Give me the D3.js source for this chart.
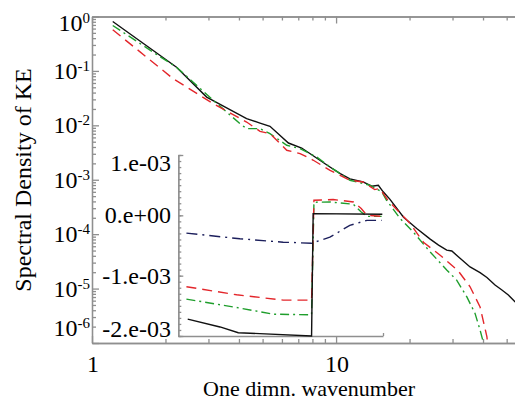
<!DOCTYPE html>
<html>
<head>
<meta charset="utf-8">
<script src="https://cdn.jsdelivr.net/npm/d3@7"></script>
<style>
  body { margin: 0; background: #fff; }
  text { font-family: "Liberation Serif", "Times New Roman", serif; fill: #000; }
</style>
</head>
<body>
<svg id="chart" width="515" height="402"></svg>
<script>
// main spectra (wavenumber, spectral density)
const blackK = [1.216, 2.22, 2.95, 4.30, 4.88, 5.36, 6.38, 7.23, 8.20, 9.30, 10.4, 11.4, 12.9, 14.0, 14.9, 15.6, 16.6, 18.9, 21.4, 24.3, 26.3, 28.4, 29.8, 32.2, 35.4, 38.9, 41.5, 44.8, 47.8, 50.8, 54.2, 60]
const blackE = [0.81, 0.117, 0.033, 0.0133, 0.011, 0.0096, 0.00473, 0.00383, 0.00262, 0.00179, 0.0013, 0.00104, 0.00091, 0.00076, 0.00079, 6.0e-4, 4.4e-4, 2.05e-4, 1.27e-4, 8.1e-5, 6.3e-5, 5.1e-5, 4.9e-5, 3.6e-5, 2.5e-5, 1.97e-5, 1.6e-5, 1.16e-5, 9.4e-6, 7.6e-6, 5.7e-6, 4.2e-6]

const redK = [1.216, 2.15, 3.14, 4.30, 4.88, 5.36, 6.28, 7.12, 8.07, 9.45, 11.4, 12.9, 14.4, 15.1, 16.3, 20.1, 22.8, 26.7, 31.7, 35.4, 38.9, 41.5, 42.3]
const redE = [0.57, 0.072, 0.025, 0.0115, 0.00776, 0.00704, 0.00348, 0.00303, 0.00228, 0.00149, 0.00098, 0.00091, 0.00066, 0.00069, 0.00042, 1.57e-4, 7.1e-5, 4.1e-5, 2.1e-5, 1.08e-5, 4.6e-6, 1.3e-6, 5e-7]

const greenK = [1.216, 1.78, 2.22, 3.14, 4.04, 4.30, 4.88, 5.36, 6.28, 7.12, 8.33, 9.45, 11.4, 13.8, 15.4, 16.1, 18.3, 20.7, 24.3, 28.4, 31.2, 34.3, 37.1, 38.9, 40.2, 40.8]
const greenE = [0.684, 0.221, 0.117, 0.0288, 0.0107, 0.0087, 0.0087, 0.00704, 0.0043, 0.00373, 0.00262, 0.00172, 0.00098, 0.00079, 0.0006, 0.00042, 1.94e-4, 1.1e-4, 4.7e-5, 2.2e-5, 1.43e-5, 7.1e-6, 3.5e-6, 1.73e-6, 9.9e-7, 5e-7]

// inset curves (wavenumber, value)
const insBlackK = [2.47, 3.35, 3.98, 7.95, 8.07, 15.5]
const insBlackV = [-1.72e-3, -1.85e-3, -1.945e-3, -2.0e-3, 0.028e-3, 0.017e-3]
const insNavyK = [2.44, 4.04, 6.08, 7.95, 9.45, 11.4, 13.4, 15.4]
const insNavyV = [-0.295e-3, -0.388e-3, -0.445e-3, -0.462e-3, -0.362e-3, -0.167e-3, -0.083e-3, -0.083e-3]
const insRedK = [2.44, 3.92, 6.08, 7.95, 8.13, 9.75, 11.8, 12.7, 13.4, 15.4]
const insRedV = [-1.183e-3, -1.317e-3, -1.405e-3, -1.405e-3, 0.25e-3, 0.262e-3, 0.222e-3, 0.112e-3, 0.0, -0.017e-3]
const insGreenK = [2.44, 3.92, 5.53, 7.95, 8.13, 9.45, 11.8, 12.7, 13.4, 15.4]
const insGreenV = [-1.388e-3, -1.528e-3, -1.638e-3, -1.65e-3, 0.217e-3, 0.222e-3, 0.183e-3, 0.055e-3, -0.017e-3, -0.017e-3]

// ticks
const xMinor = [2, 3, 4, 5, 6, 7, 8, 9, 20, 30, 40, 50]
const xMajor = [1, 10]
const xLabels = ['1', '10']
const yMajorExp = [0, -1, -2, -3, -4, -5, -6]
const insTicks = [1e-3, 0, -1e-3, -2e-3]
const insLabels = ['1.e-03', '0.e+00', '-1.e-03', '-2.e-03']

const svg = d3.select('#chart')
const axisColor = '#8f8f8f'

const x = d3.scaleLog().domain([1, 60]).range([92, 526])
const y = d3.scaleLog().domain([1e-6, 1]).range([343, 16.5])

const xIn = d3.scaleLog().domain([2.26, 15.6]).range([178.3, 383])
const yIn = d3.scaleLinear().domain([-2e-3, 1e-3]).range([336, 155])

const yMinor = []
yMajorExp.slice(1).forEach(e => {
    for (let m = 2; m <= 9; m++) yMinor.push(m * Math.pow(10, e))
})

const styleAxis = g => {
    g.selectAll('path, line').attr('stroke', axisColor).attr('stroke-width', 1.3)
    g.selectAll('text').remove()
}

// main frame
svg.append('g').attr('transform', 'translate(0,' + y.range()[0] + ')')
    .call(d3.axisBottom(x).tickValues(xMinor).tickSize(-4).tickSizeOuter(0).tickFormat(''))
    .call(styleAxis)
svg.append('g').attr('transform', 'translate(0,' + y.range()[0] + ')')
    .call(d3.axisBottom(x).tickValues(xMajor).tickSize(-7).tickSizeOuter(0).tickFormat(''))
    .call(styleAxis)
svg.append('g').attr('transform', 'translate(0,' + y.range()[1] + ')')
    .call(d3.axisTop(x).tickValues(xMinor).tickSize(-4).tickSizeOuter(0).tickFormat(''))
    .call(styleAxis)
svg.append('g').attr('transform', 'translate(0,' + y.range()[1] + ')')
    .call(d3.axisTop(x).tickValues(xMajor).tickSize(-7).tickSizeOuter(0).tickFormat(''))
    .call(styleAxis)
svg.append('g').attr('transform', 'translate(' + x.range()[0] + ',0)')
    .call(d3.axisLeft(y).tickValues(yMinor).tickSize(-4).tickSizeOuter(0).tickFormat(''))
    .call(styleAxis)
svg.append('g').attr('transform', 'translate(' + x.range()[0] + ',0)')
    .call(d3.axisLeft(y).tickValues(yMajorExp.map(e => Math.pow(10, e))).tickSize(-7).tickSizeOuter(0).tickFormat(''))
    .call(styleAxis)

// main tick labels
xMajor.forEach((v, i) => {
    svg.append('text').attr('x', x(v) + 1).attr('y', 372)
        .attr('text-anchor', 'middle').attr('font-size', 24).text(xLabels[i])
})
yMajorExp.forEach(e => {
    const cy = Math.min(Math.max(y(Math.pow(10, e)), 22.5), 328)
    const t = svg.append('text').attr('x', 90).attr('y', cy + 8)
        .attr('text-anchor', 'end').attr('font-size', 24)
    t.append('tspan').text('10')
    t.append('tspan').attr('font-size', 15).attr('dy', -8).text(String(e))
})

svg.append('text').attr('x', 309).attr('y', 396).attr('text-anchor', 'middle')
    .attr('font-size', 22).text('One dimn. wavenumber')
svg.append('text').attr('transform', 'translate(31,180) rotate(-90)')
    .attr('text-anchor', 'middle').attr('font-size', 24).text('Spectral Density of KE')

// main curves
svg.append('clipPath').attr('id', 'plotclip').append('rect')
    .attr('x', 92).attr('y', 16.5).attr('width', 434).attr('height', 326.5)

const mainLine = d3.line().x(d => x(d[0])).y(d => y(d[1]))
const mainSeries = [
    { k: blackK, e: blackE, color: '#111', dash: null },
    { k: greenK, e: greenE, color: '#1f9e2c', dash: '9,4,2,4' },
    { k: redK, e: redE, color: '#e3262b', dash: '10,6' }
]
const plot = svg.append('g').attr('clip-path', 'url(#plotclip)')
mainSeries.forEach(s => {
    plot.append('path').datum(d3.zip(s.k, s.e))
        .attr('d', mainLine).attr('fill', 'none')
        .attr('stroke', s.color).attr('stroke-width', 1.4)
        .attr('stroke-dasharray', s.dash)
})

// inset axes
svg.append('g').attr('transform', 'translate(' + xIn.range()[0] + ',0)')
    .call(d3.axisLeft(yIn).tickValues(d3.range(-20, 11).map(i => i * 1e-4)).tickSize(-3).tickSizeOuter(0).tickFormat(''))
    .call(styleAxis)
svg.append('g').attr('transform', 'translate(' + xIn.range()[0] + ',0)')
    .call(d3.axisLeft(yIn).tickValues(insTicks).tickSize(-5).tickSizeOuter(0).tickFormat(''))
    .call(styleAxis)
svg.append('g').attr('transform', 'translate(0,' + yIn.range()[0] + ')')
    .call(d3.axisBottom(xIn).tickValues([15.6]).tickSize(-3).tickSizeOuter(0).tickFormat(''))
    .call(styleAxis)

insTicks.forEach((v, i) => {
    const cy = Math.min(Math.max(yIn(v), 162.5), 329)
    svg.append('text').attr('x', 171).attr('y', cy + 8)
        .attr('text-anchor', 'end').attr('font-size', 24).text(insLabels[i])
})

const insLine = d3.line().x(d => xIn(d[0])).y(d => yIn(d[1]))
const insSeries = [
    { k: insNavyK, v: insNavyV, color: '#1c1f5c', dash: '11,5,2,5' },
    { k: insGreenK, v: insGreenV, color: '#1f9e2c', dash: '9,4,2,4' },
    { k: insRedK, v: insRedV, color: '#e3262b', dash: '10,6' },
    { k: insBlackK, v: insBlackV, color: '#111', dash: null }
]
insSeries.forEach(s => {
    svg.append('path').datum(d3.zip(s.k, s.v))
        .attr('d', insLine).attr('fill', 'none')
        .attr('stroke', s.color).attr('stroke-width', 1.4)
        .attr('stroke-dasharray', s.dash)
})
</script>
</body>
</html>
